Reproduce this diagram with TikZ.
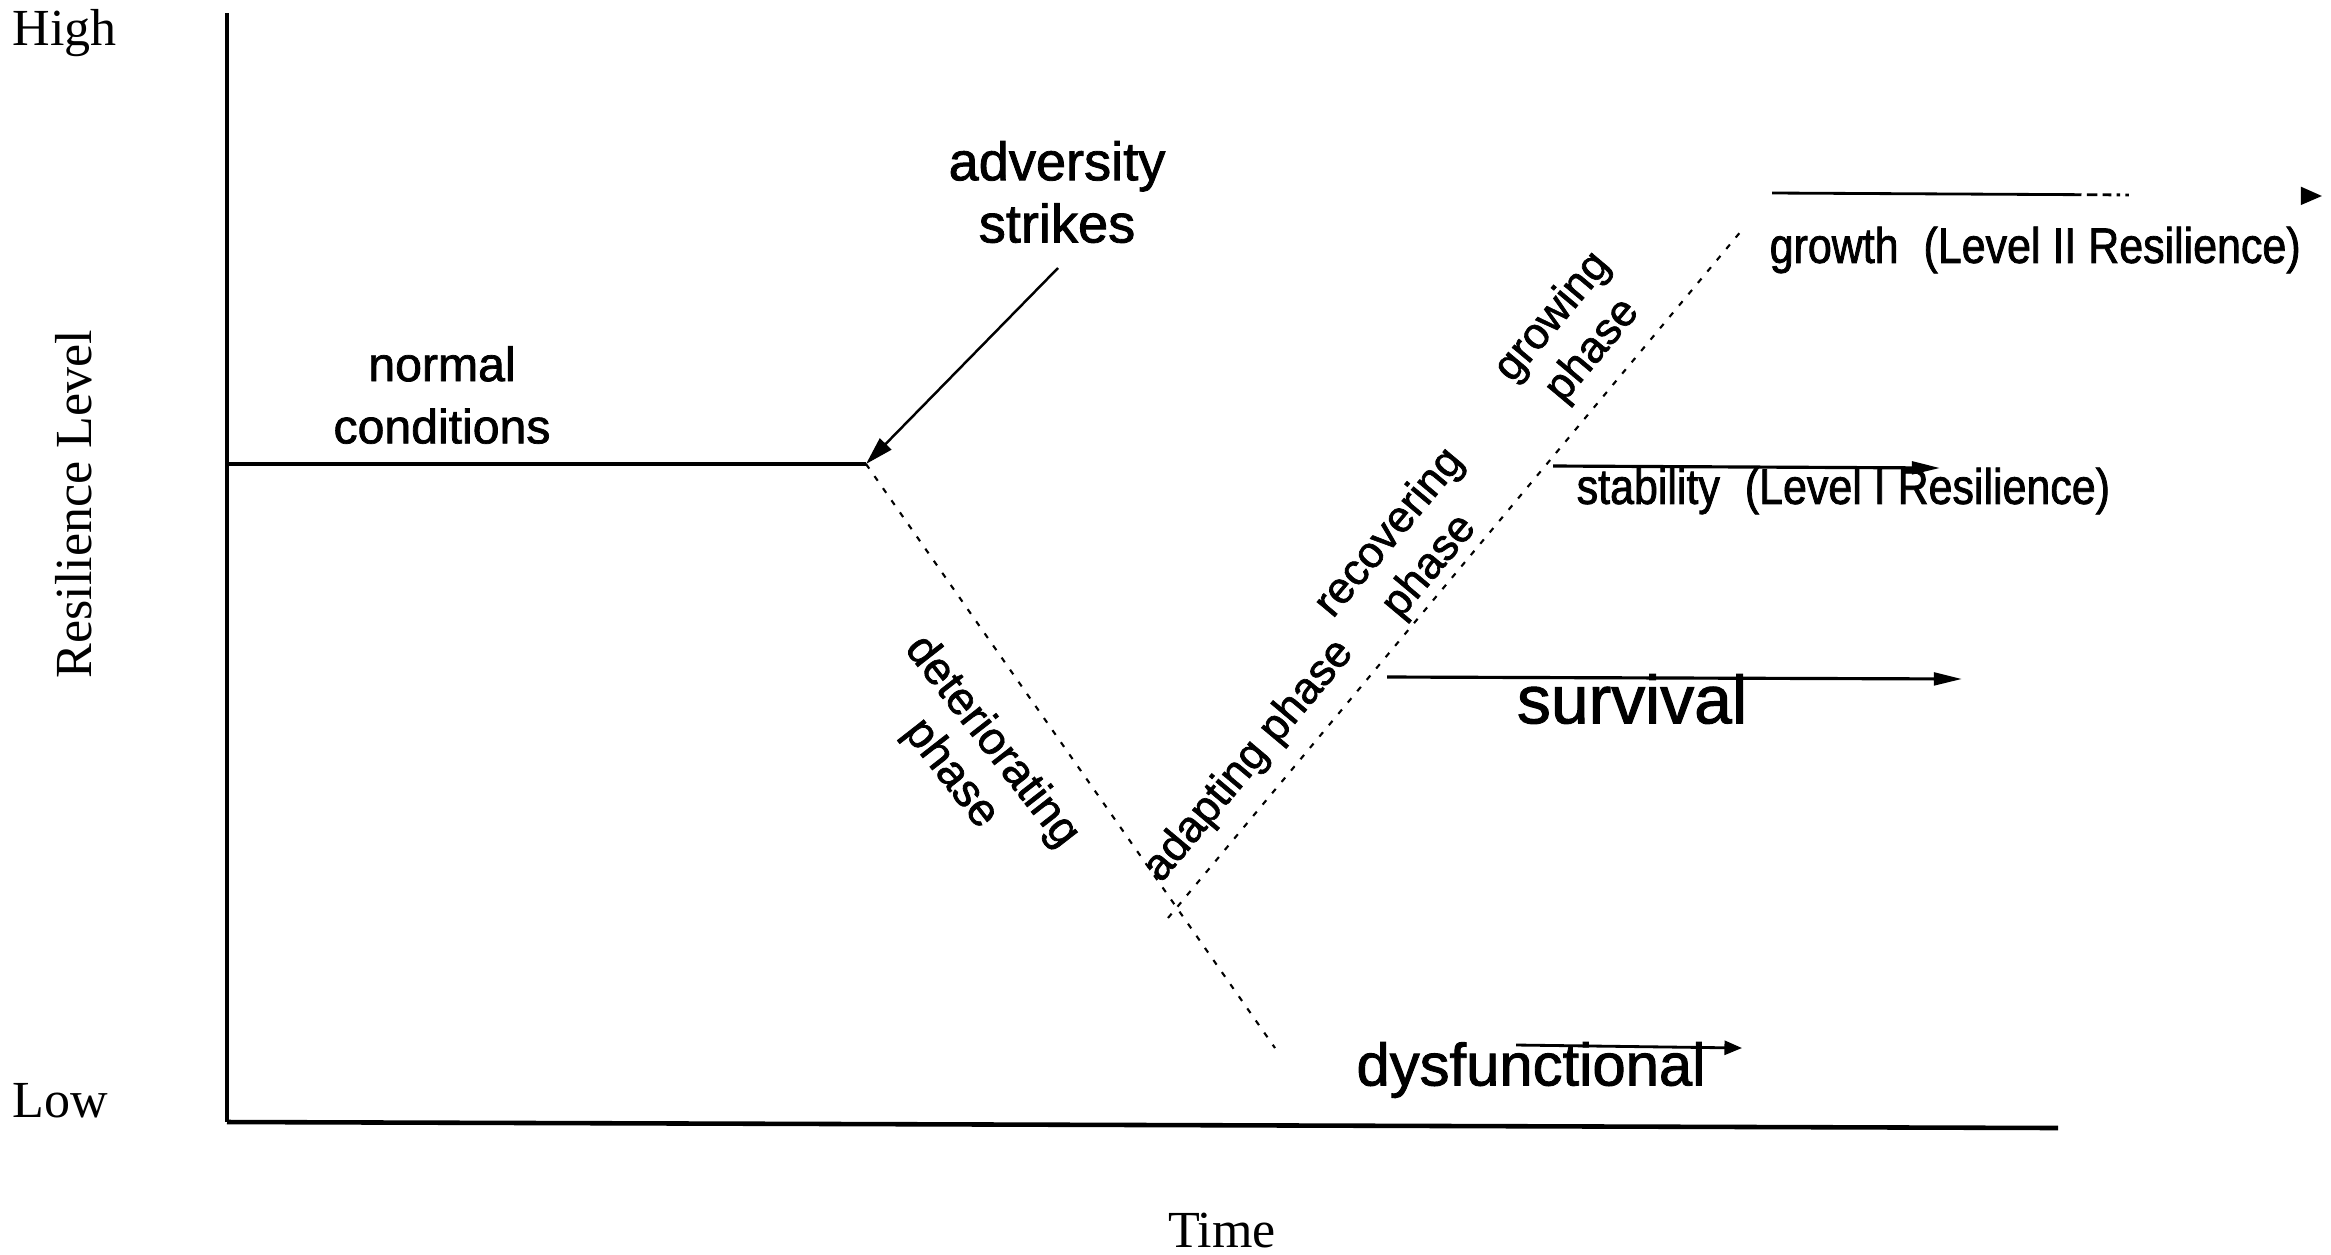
\documentclass[tikz,border=0pt]{standalone}
\usepackage{fontspec}
\setmainfont{Liberation Serif}
\setsansfont{Liberation Sans}[FakeBold=1.5]
\newfontfamily\heavysans[FakeBold=1.5]{Liberation Sans}
\newfontfamily\condsans[FakeStretch=0.86,FakeBold=1.5]{Liberation Sans}
\usetikzlibrary{arrows.meta}
\begin{document}
\begin{tikzpicture}[x=0.01cm,y=-0.01cm,
  serif/.style={font=\fontsize{14.8}{17}\selectfont, inner sep=0pt},
  lbl/.style={font=\heavysans\fontsize{15.4}{17.7}\selectfont, align=center, inner sep=0pt},
  phase/.style={font=\heavysans\fontsize{12.5}{14.8}\selectfont, align=center, inner sep=0pt},
  cond/.style={font=\condsans\fontsize{14.2}{17}\selectfont, inner sep=0pt},
  axis/.style={line width=0.9pt},
  dashline/.style={line width=0.6pt, dash pattern=on 1.6pt off 2.6pt},
  outarrow/.style={line width=0.9pt, -{Triangle[length=8pt,width=3.6pt]}},
]
\useasboundingbox (0,0) rectangle (2331,1254);
% coordinates
\coordinate (Ytop) at (227,13);
\coordinate (O) at (227,1122);
\coordinate (Xend) at (2058,1128);
\coordinate (N0) at (227,464);
\coordinate (S) at (866,464);
\coordinate (D) at (1275,1048);
\coordinate (V) at (1168,918);
\coordinate (G) at (1742,230);
\coordinate (A0) at (1058,268);
\coordinate (sv0) at (1387,677);
\coordinate (sv1) at (1962,679);
\coordinate (st0) at (1553,466);
\coordinate (st1) at (1940,468);
\coordinate (gr0) at (1772,193);
\coordinate (gr1) at (2322,196);
\coordinate (dy0) at (1516,1045);
\coordinate (dy1) at (1742,1048);
% axes
\draw[line width=0.9pt] (Ytop) -- (O);
\draw[line width=1.3pt] (O) -- (Xend);
% texts
\node[serif, anchor=base west] (high) at (12,45) {High};
\node[serif, anchor=base west] (low) at (12,1117) {Low};
\node[serif, anchor=base] (time) at (1222,1247) {Time};
\node[serif, rotate=90] (rl) at (74,504) {Resilience Level};
\node[lbl] (adv) at (1057,192) {adversity\\strikes};
\node[lbl, font=\heavysans\fontsize{13.7}{17.7}\selectfont] (norm) at (442,395) {normal\\conditions};
\node[phase, font=\heavysans\fontsize{13}{14.8}\selectfont, rotate=-52] (det) at (971,758) {deteriorating\\phase};
\node[phase, rotate=50] (adp) at (1249,761) {adapting phase};
\node[phase, rotate=50] (rec) at (1410,550) {recovering\\phase};
\node[phase, rotate=50] (grw) at (1573,334) {growing\\phase};
\node[cond, anchor=west] (gro) at (1769,250) {growth\enspace(Level II Resilience)};
\node[cond, anchor=west] (sta) at (1576,491) {stability\enspace(Level I Resilience)};
\node[font=\heavysans\fontsize{19.3}{22}\selectfont, inner sep=0pt] (sur) at (1632,699) {survival};
\node[font=\heavysans\fontsize{17}{20}\selectfont, inner sep=0pt] (dys) at (1531,1070) {dysfunctional};
% curves
\draw[axis] (N0) -- (S);
\draw[line width=0.7pt, -{Triangle[length=8pt,width=4.5pt]}] (A0) -- (S);
\draw[dashline] (S) -- (D);
\draw[dashline] (V) -- (G);
\draw[outarrow] (sv0) -- (sv1);
\draw[outarrow] (st0) -- (st1);
\draw[line width=0.8pt, dash pattern=on 88pt off 1.5pt on 3pt off 1.5pt on 2.5pt off 1.5pt on 1pt off 1.5pt on 1pt off 100pt, -{Triangle[length=6pt,width=5pt]}] (gr0) -- (gr1);
\draw[line width=0.8pt, -{Triangle[length=5pt,width=4pt]}] (dy0) -- (dy1);
\end{tikzpicture}
\end{document}
